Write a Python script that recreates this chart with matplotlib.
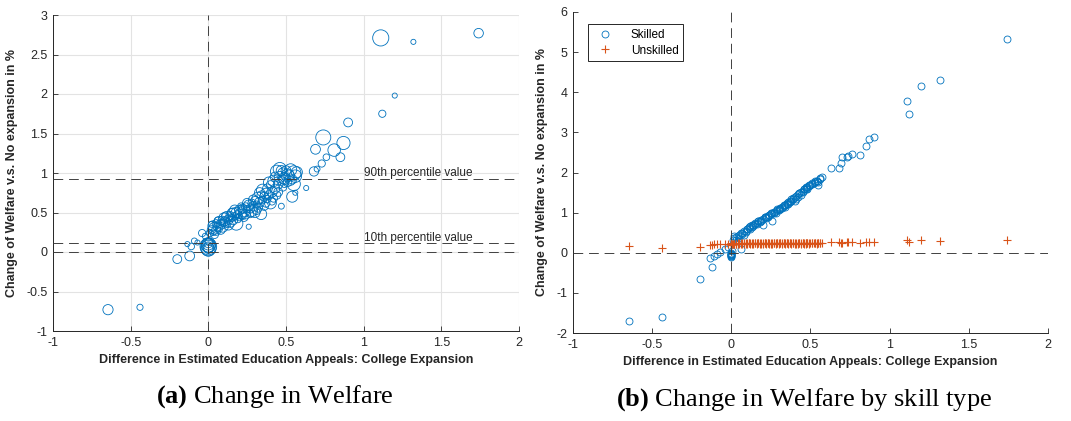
import matplotlib
matplotlib.use("Agg")
from matplotlib import pyplot as plt
from matplotlib.ticker import FuncFormatter

# difference in estimated education appeals (college expansion), one entry per region
diff_appeal = [
    # low outliers
    -0.646, -0.44, -0.20, -0.12, -0.135, -0.11, -0.09, -0.07, -0.04, -0.02,
    # regions with no change
    0.0, 0.0, 0.0, 0.0, 0.0, 0.0, 0.0, 0.005, 0.0, 0.0,
    # high outliers
    1.74, 1.11, 1.32, 1.20, 1.12, 0.90, 0.74, 0.87, 0.69, 0.81,
    0.76, 0.85, 0.73, 0.70, 0.68, 0.63, 0.56, 0.54, 0.47, 0.26,
    # main cluster
    0.01, 0.02, 0.02, 0.03, 0.03, 0.04, 0.04, 0.05, 0.05, 0.06,
    0.06, 0.07, 0.07, 0.08, 0.08, 0.09, 0.09, 0.10, 0.10, 0.11,
    0.11, 0.12, 0.12, 0.13, 0.13, 0.14, 0.14, 0.15, 0.15, 0.16,
    0.16, 0.17, 0.17, 0.18, 0.18, 0.19, 0.19, 0.20, 0.20, 0.21,
    0.21, 0.22, 0.22, 0.23, 0.23, 0.24, 0.24, 0.25, 0.25, 0.26,
    0.27, 0.27, 0.28, 0.28, 0.29, 0.29, 0.30, 0.30, 0.31, 0.31,
    0.32, 0.32, 0.33, 0.33, 0.34, 0.34, 0.35, 0.35, 0.36, 0.36,
    0.37, 0.37, 0.38, 0.38, 0.39, 0.39, 0.40, 0.40, 0.41, 0.41,
    0.42, 0.42, 0.43, 0.43, 0.44, 0.44, 0.45, 0.45, 0.46, 0.46,
    0.47, 0.47, 0.48, 0.48, 0.49, 0.49, 0.50, 0.51, 0.51, 0.52,
    0.53, 0.53, 0.54, 0.55, 0.55, 0.56, 0.57,
]

# change of welfare v.s. no expansion in % (all workers)
welfare_all = [
    -0.73, -0.70, -0.09, -0.05, 0.10, 0.07, 0.14, 0.12, 0.24, 0.20,
    0.07, 0.05, 0.09, 0.03, 0.10, 0.06, 0.04, 0.13, 0.11, 0.08,
    2.77, 2.71, 2.66, 1.98, 1.75, 1.64, 1.45, 1.38, 1.30, 1.29,
    1.20, 1.20, 1.12, 1.05, 1.02, 0.81, 0.75, 0.70, 0.58, 0.32,
    0.24, 0.28, 0.35, 0.33, 0.25, 0.30, 0.22, 0.36, 0.27, 0.32,
    0.40, 0.38, 0.30, 0.35, 0.28, 0.40, 0.33, 0.37, 0.43, 0.39,
    0.46, 0.35, 0.44, 0.41, 0.34, 0.46, 0.38, 0.43, 0.50, 0.48,
    0.40, 0.45, 0.53, 0.50, 0.36, 0.47, 0.42, 0.53, 0.44, 0.49,
    0.58, 0.55, 0.46, 0.52, 0.44, 0.57, 0.48, 0.54, 0.62, 0.59,
    0.55, 0.48, 0.62, 0.52, 0.58, 0.66, 0.65, 0.50, 0.60, 0.53,
    0.68, 0.56, 0.63, 0.75, 0.72, 0.48, 0.66, 0.78, 0.70, 0.58,
    0.74, 0.62, 0.67, 0.80, 0.72, 0.88, 0.62, 0.85, 0.76, 0.64,
    0.68, 0.90, 0.80, 0.95, 1.02, 0.72, 0.86, 0.76, 0.95, 1.05,
    0.90, 1.03, 1.00, 0.82, 0.93, 0.87, 1.03, 0.88, 0.97, 0.97,
    1.04, 0.90, 0.92, 1.00, 0.86, 0.96, 1.01,
]

# region weight (marker area)
pop_weight = [
    60, 22, 45, 55, 15, 25, 20, 15, 30, 20,
    160, 140, 120, 100, 80, 65, 50, 35, 45, 110,
    52, 150, 15, 15, 30, 45, 130, 100, 55, 90,
    25, 45, 30, 20, 50, 15, 15, 70, 20, 15,
    30, 40, 20, 60, 25, 80, 35, 35, 50, 45,
    25, 70, 30, 55, 45, 40, 90, 35, 60, 45,
    30, 25, 75, 50, 55, 40, 65, 30, 40, 85,
    45, 35, 60, 60, 100, 40, 35, 55, 30, 70,
    25, 45, 35, 80, 40, 40, 55, 30, 50, 65,
    45, 30, 35, 75, 50, 55, 40, 60, 30, 45,
    85, 45, 55, 60, 40, 70, 35, 90, 50, 40,
    65, 40, 30, 55, 45, 70, 80, 40, 60, 30,
    35, 75, 50, 55, 90, 40, 55, 45, 70, 100,
    45, 60, 60, 35, 80, 40, 55, 40, 95, 65,
    85, 45, 50, 120, 100, 90, 70,
]

# welfare change by skill type
welfare_skilled = [
    -1.70, -1.60, -0.65, -0.35, -0.13, -0.08, -0.02, 0.02, 0.10, 0.15,
    -0.05, -0.08, -0.03, -0.10, 0.00, -0.06, -0.09, 0.05, -0.02, -0.04,
    5.33, 3.77, 4.30, 4.16, 3.47, 2.89, 2.40, 2.83, 2.23, 2.43,
    2.47, 2.67, 2.39, 2.38, 2.12, 2.12, 1.85, 1.78, 1.60, 0.80,
    0.32, 0.36, 0.42, 0.40, 0.33, 0.42, 0.30, 0.45, 0.38, 0.10,
    0.48, 0.50, 0.47, 0.53, 0.45, 0.55, 0.52, 0.58, 0.60, 0.62,
    0.63, 0.60, 0.66, 0.68, 0.64, 0.70, 0.66, 0.72, 0.74, 0.75,
    0.72, 0.78, 0.79, 0.80, 0.76, 0.82, 0.80, 0.85, 0.70, 0.88,
    0.90, 0.90, 0.86, 0.92, 0.88, 0.95, 0.93, 0.98, 0.97, 1.00,
    1.02, 0.98, 1.05, 1.00, 1.08, 1.07, 1.10, 1.06, 1.12, 1.10,
    1.15, 1.12, 1.18, 1.17, 1.20, 1.15, 1.22, 1.25, 1.27, 1.22,
    1.30, 1.26, 1.28, 1.33, 1.35, 1.36, 1.30, 1.40, 1.42, 1.34,
    1.38, 1.46, 1.48, 1.50, 1.52, 1.45, 1.55, 1.52, 1.58, 1.60,
    1.62, 1.63, 1.65, 1.60, 1.68, 1.66, 1.70, 1.72, 1.73, 1.75,
    1.78, 1.77, 1.80, 1.76, 1.70, 1.86, 1.89,
]

welfare_unskilled = [
    0.18, 0.12, 0.15, 0.20, 0.20, 0.21, 0.22, 0.21, 0.22, 0.22,
    0.22, 0.21, 0.23, 0.20, 0.22, 0.21, 0.20, 0.23, 0.24, 0.22,
    0.32, 0.33, 0.30, 0.32, 0.28, 0.28, 0.27, 0.28, 0.25, 0.25,
    0.27, 0.26, 0.26, 0.24, 0.26, 0.26, 0.25, 0.24, 0.23, 0.24,
    0.21, 0.22, 0.22, 0.23, 0.21, 0.24, 0.22, 0.22, 0.25, 0.23,
    0.24, 0.24, 0.22, 0.25, 0.23, 0.23, 0.24, 0.22, 0.25, 0.24,
    0.24, 0.23, 0.25, 0.24, 0.23, 0.22, 0.25, 0.24, 0.25, 0.23,
    0.25, 0.24, 0.24, 0.22, 0.25, 0.24, 0.23, 0.23, 0.25, 0.24,
    0.25, 0.22, 0.25, 0.24, 0.24, 0.23, 0.25, 0.24, 0.23, 0.23,
    0.25, 0.24, 0.24, 0.22, 0.25, 0.25, 0.24, 0.23, 0.25, 0.24,
    0.24, 0.22, 0.25, 0.24, 0.24, 0.23, 0.25, 0.24, 0.23, 0.25,
    0.24, 0.25, 0.22, 0.25, 0.24, 0.24, 0.23, 0.25, 0.24, 0.23,
    0.25, 0.23, 0.24, 0.25, 0.25, 0.22, 0.24, 0.24, 0.25, 0.23,
    0.24, 0.24, 0.25, 0.24, 0.23, 0.25, 0.25, 0.24, 0.24, 0.24,
    0.25, 0.24, 0.23, 0.24, 0.25, 0.25, 0.24,
]

pct10 = 0.11
pct90 = 0.93

xticks = [-1, -0.5, 0, 0.5, 1, 1.5, 2]
yticks_a = [-1, -0.5, 0, 0.5, 1, 1.5, 2, 2.5, 3]
yticks_b = [-2, -1, 0, 1, 2, 3, 4, 5, 6]

xlabel = "Difference in Estimated Education Appeals: College Expansion"
ylabel = "Change of Welfare v.s. No expansion in %"

BLUE = "#0072BD"
ORANGE = "#D95319"
DASH = "#404040"

plt.rcParams['font.family'] = ['Liberation Sans', 'DejaVu Sans']
plt.rcParams['axes.unicode_minus'] = False
plt.rcParams['mathtext.fontset'] = 'custom'
plt.rcParams['mathtext.rm'] = 'Liberation Serif'
plt.rcParams['mathtext.bf'] = 'Liberation Serif:bold'

fig = plt.figure(figsize=(10.71, 4.21), dpi=100)
ax1 = fig.add_axes([53/1071, 90/421, 466/1071, 316/421])
ax2 = fig.add_axes([573/1071, 88/421, 475/1071, 321/421])

fmt = FuncFormatter(lambda v, p: '%g' % v)


def style_axes(ax, yticks):
    ax.set_xlim(-1, 2)
    ax.set_ylim(yticks[0], yticks[-1])
    ax.set_xticks(xticks)
    ax.set_yticks(yticks)
    ax.xaxis.set_major_formatter(fmt)
    ax.yaxis.set_major_formatter(fmt)
    for side in ['top', 'right']:
        ax.spines[side].set_visible(False)
    for side in ['left', 'bottom']:
        ax.spines[side].set_color('#262626')
        ax.spines[side].set_linewidth(0.7)
    ax.tick_params(direction='in', length=3.5, width=0.6, color='#262626',
                   labelsize=9, labelcolor='#262626', pad=4)
    ax.set_xlabel(xlabel, fontsize=9, fontweight='bold', color='#262626', labelpad=4)
    ax.set_ylabel(ylabel, fontsize=9, fontweight='bold', color='#262626', labelpad=6)


# (a) Change in Welfare
style_axes(ax1, yticks_a)
ax1.grid(True, color='#e3e3e3', linewidth=0.8)
ax1.set_axisbelow(True)
ax1.scatter(diff_appeal, welfare_all, s=[w * 0.9 for w in pop_weight],
            facecolors='none', edgecolors=BLUE, linewidths=0.6, zorder=3)
dash = (0, (10, 6))
ax1.axvline(0, color=DASH, linestyle=dash, linewidth=0.7, zorder=4)
ax1.axhline(0, color=DASH, linestyle=dash, linewidth=0.7, zorder=4)
ax1.axhline(pct10, color=DASH, linestyle=dash, linewidth=0.7, zorder=4)
ax1.axhline(pct90, color=DASH, linestyle=dash, linewidth=0.7, zorder=4)
ax1.text(1.0, pct90 + 0.035, "90th percentile value", fontsize=8.5, color='#262626')
ax1.text(1.0, pct10 + 0.035, "10th percentile value", fontsize=8.5, color='#262626')

# (b) Change in Welfare by skill type
style_axes(ax2, yticks_b)
ax2.plot(diff_appeal, welfare_skilled, 'o', markerfacecolor='none',
         markeredgecolor=BLUE, markersize=5, markeredgewidth=0.6, label='Skilled', zorder=3)
ax2.plot(diff_appeal, welfare_unskilled, '+', color=ORANGE,
         markersize=5.5, markeredgewidth=0.8, label='Unskilled', zorder=4)
ax2.axvline(0, color=DASH, linestyle=dash, linewidth=0.7, zorder=5)
ax2.axhline(0, color=DASH, linestyle=dash, linewidth=0.7, zorder=5)
leg = ax2.legend(loc='upper left', bbox_to_anchor=(0.02, 0.98), fontsize=8.5,
                 fancybox=False, framealpha=1, edgecolor='#262626',
                 borderpad=0.4, handletextpad=1.2, labelspacing=0.3)
leg.get_frame().set_linewidth(0.7)

# captions
fig.text(275/1071, 0.057, r"$\mathbf{(a)}$ Change in Welfare", ha='center',
         va='center', fontsize=19, family='Liberation Serif')
fig.text(804/1071, 0.052, r"$\mathbf{(b)}$ Change in Welfare by skill type", ha='center',
         va='center', fontsize=19, family='Liberation Serif')

plt.savefig('out.png', dpi=100)
